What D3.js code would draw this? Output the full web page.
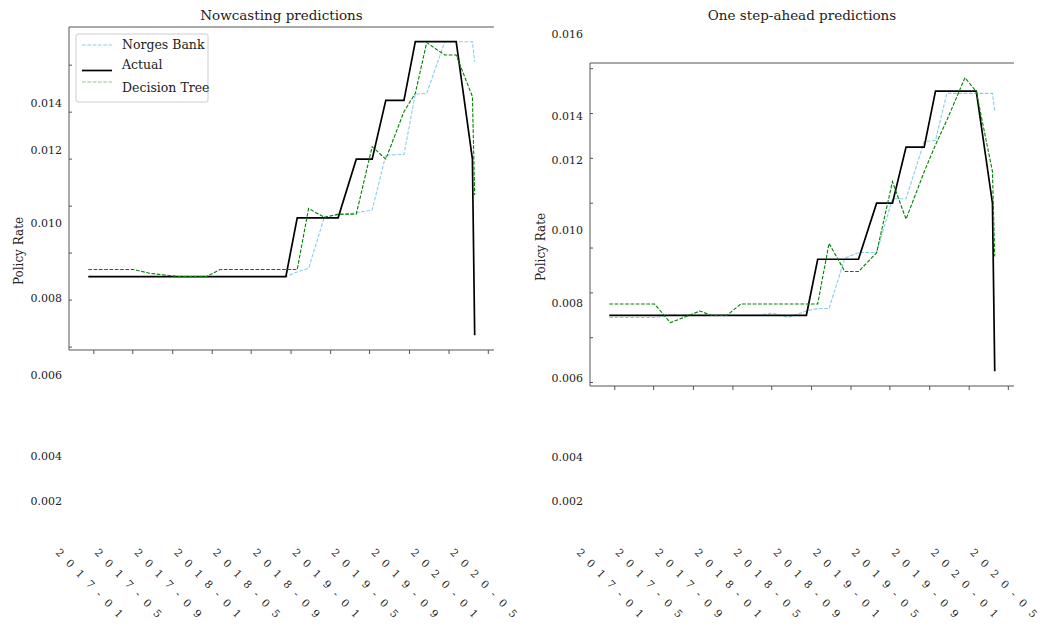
<!DOCTYPE html>
<html><head><meta charset="utf-8">
<script src="https://cdn.jsdelivr.net/npm/d3@7"></script>
<style>
body{margin:0;background:#fff}
text{font-family:"DejaVu Serif",serif;fill:#222}
</style>
</head><body>
<svg id="chart" width="1062" height="630"></svg>
<script>
// ---------------- DATA ----------------
const meetingDates = ["2016-12-15","2017-03-16","2017-05-04","2017-06-22","2017-09-21","2017-10-26","2017-12-14",
  "2018-01-25","2018-03-22","2018-05-03","2018-06-21","2018-08-16","2018-09-20","2018-10-25","2018-12-13",
  "2019-01-24","2019-03-21","2019-05-09","2019-06-20","2019-08-15","2019-09-19","2019-10-24","2019-12-19",
  "2020-01-23","2020-03-13","2020-03-20"];

const actualRate = [0.005,0.005,0.005,0.005,0.005,0.005,0.005,0.005,0.005,0.005,0.005,0.005,
  0.0075,0.0075,0.0075,0.0075,0.01,0.01,0.0125,0.0125,0.015,0.015,0.015,0.015,0.01,0.0025];

// Nowcasting panel
const nowNorgesBank = [0.005,0.005,0.005,0.005,0.005,0.005,0.005,0.005,0.005,0.005,0.005,0.005,
  0.0052,0.00535,0.00755,0.00762,0.00772,0.00783,0.01017,0.0102,0.01277,0.0128,0.015,0.015,0.015,0.01415];
const nowDecisionTree = [0.0053,0.0053,0.0053,0.00514,0.005,0.005,0.005,0.0053,0.0053,0.0053,0.0053,0.0053,
  0.0053,0.0079,0.00752,0.00766,0.00766,0.01053,0.0100,0.01202,0.0128,0.01496,0.01443,0.01443,0.01266,0.00847];

// One step-ahead panel
const aheadNorgesBank = [0.0049,0.0049,0.0049,0.005,0.005,0.005,0.005,0.005,0.005,0.0051,0.0049,0.0052,
  0.0053,0.0053,0.00755,0.0078,0.0078,0.0102,0.0102,0.01275,0.0128,0.0149,0.0149,0.0149,0.0149,0.0141];
const aheadDecisionTree = [0.0055,0.0055,0.0055,0.00467,0.00519,0.005,0.005,0.0055,0.0055,0.0055,0.0055,0.0055,
  0.0055,0.00821,0.00695,0.00695,0.00779,0.01096,0.00929,0.0114,0.0126,0.0137,0.0156,0.01498,0.01141,0.00762];

const seriesNames = ["Norges Bank","Actual","Decision Tree"];
const panelTitles = ["Nowcasting predictions","One step-ahead predictions"];
const yAxisTitle = "Policy Rate";
const yTickLabelsLeft = ["0.002","0.004","0.006","0.008","0.010","0.012","0.014"];
const yTickLabelsRight = ["0.002","0.004","0.006","0.008","0.010","0.012","0.014","0.016"];

// ---------------- LAYOUT ----------------
const svg = d3.select("#chart");
const parseDate = d3.timeParse("%Y-%m-%d");
const dates = meetingDates.map(parseDate);
const fmtMonth = d3.timeFormat("%Y-%m");

const styles = {
  nb: {stroke:"#87CEEB", width:1.1, dash:"3.7,1.6"},
  act: {stroke:"#000", width:1.7, dash:null},
  dt: {stroke:"#008000", width:1.1, dash:"3.7,1.6"}
};

const panels = [
  {title: panelTitles[0], nb: nowNorgesBank, dt: nowDecisionTree, labels: yTickLabelsLeft,
   left:69, right:494, top:27, bottom:350, titleY:20, yTitleX:19, yTitleY:251,
   labelRight:62, xLabelY:553,
   labelPos:[501,456,375,298,223,150,103], legend:true},
  {title: panelTitles[1], nb: aheadNorgesBank, dt: aheadDecisionTree, labels: yTickLabelsRight,
   left:590, right:1014, top:63, bottom:386, titleY:20, yTitleX:541, yTitleY:247,
   labelRight:583, xLabelY:553,
   labelPos:[501,457,378,303,230,160,116,34], legend:false}
];

function padded(ext, f){ const s = ext[1]-ext[0]; return [ext[0]-s*f, ext[1]+s*f]; }

panels.forEach(p => {
  const g = svg.append("g");
  const tExt = d3.extent(dates);
  const span = tExt[1]-tExt[0];
  const x = d3.scaleTime()
    .domain([new Date(+tExt[0]-span*0.05), new Date(+tExt[1]+span*0.05)])
    .range([p.left, p.right]);
  const allVals = actualRate.concat(p.nb, p.dt);
  const y = d3.scaleLinear().domain(padded(d3.extent(allVals),0.05)).range([p.bottom, p.top]);

  const axisColor = "#555";
  // spines: top, left, bottom
  g.append("line").attr("x1",p.left).attr("x2",p.right).attr("y1",p.top).attr("y2",p.top)
    .attr("stroke",axisColor).attr("stroke-width",1);
  g.append("line").attr("x1",p.left).attr("x2",p.left).attr("y1",p.top).attr("y2",p.bottom)
    .attr("stroke",axisColor).attr("stroke-width",1);
  g.append("line").attr("x1",p.left).attr("x2",p.right).attr("y1",p.bottom).attr("y2",p.bottom)
    .attr("stroke",axisColor).attr("stroke-width",1);

  // x ticks
  const xTicks = d3.timeMonth.every(4).range(x.domain()[0], x.domain()[1]);
  g.selectAll(".xt").data(xTicks).join("line")
    .attr("x1",d=>x(d)).attr("x2",d=>x(d)).attr("y1",p.bottom).attr("y2",p.bottom+4)
    .attr("stroke",axisColor).attr("stroke-width",1);
  // x tick labels (rotated, spread characters)
  g.selectAll(".xl").data(xTicks).join("text")
    .attr("transform",d=>`translate(${x(d)-38.8},${p.xLabelY}) rotate(46)`)
    .attr("font-size",10.5).style("letter-spacing","7.9px")
    .text(d=>fmtMonth(d));

  // y ticks (inward)
  const yTickVals = d3.range(0.002, 0.0181, 0.002).filter(v => v>=y.domain()[0] && v<=y.domain()[1]);
  g.selectAll(".yt").data(yTickVals).join("line")
    .attr("x1",p.left).attr("x2",p.left+3).attr("y1",d=>y(d)).attr("y2",d=>y(d))
    .attr("stroke",axisColor).attr("stroke-width",1);
  // y tick labels (displaced, as in reference)
  const posOf = d3.scaleOrdinal().domain(p.labels).range(p.labelPos);
  g.selectAll(".yl").data(p.labels).join("text")
    .attr("x",p.labelRight).attr("y",d=>posOf(d)).attr("dy","0.35em")
    .attr("text-anchor","end").attr("font-size",11).text(d=>d);

  // titles
  g.append("text").attr("x",(p.left+p.right)/2).attr("y",p.titleY)
    .attr("text-anchor","middle").attr("font-size",13.5).text(p.title);
  g.append("text").attr("transform",`translate(${p.yTitleX},${p.yTitleY}) rotate(-90)`)
    .attr("text-anchor","middle").attr("dy","0.35em").attr("font-size",12).text(yAxisTitle);

  // lines
  const line = vals => d3.line().x((d,i)=>x(dates[i])).y(d=>y(d))(vals);
  [["nb",p.nb],["act",actualRate],["dt",p.dt]].forEach(([k,vals]) => {
    const s = styles[k];
    g.append("path").attr("d",line(vals)).attr("fill","none")
      .attr("stroke",s.stroke).attr("stroke-width",s.width)
      .attr("stroke-dasharray",s.dash).attr("stroke-linejoin","miter");
  });

  // legend
  if (p.legend) {
    const lg = g.append("g");
    lg.append("rect").attr("x",p.left+7).attr("y",p.top+7).attr("width",132).attr("height",68)
      .attr("rx",2).attr("fill","#fff").attr("stroke","#ccc").attr("stroke-width",1);
    const rows = [
      {k:"nb", ty:45, ly:45, op:1},
      {k:"act", ty:65, ly:70.5, op:1},
      {k:"dt", ty:88, ly:82, op:0.45}
    ];
    rows.forEach((r,i) => {
      const s = styles[r.k];
      lg.append("line").attr("x1",p.left+13).attr("x2",p.left+43).attr("y1",r.ly).attr("y2",r.ly)
        .attr("stroke",s.stroke).attr("stroke-width",s.width).attr("stroke-dasharray",s.dash)
        .attr("opacity",r.op);
      lg.append("text").attr("x",p.left+53).attr("y",r.ty).attr("dy","0.35em")
        .attr("font-size",12.5).text(seriesNames[i]);
    });
  }
});
</script>
</body></html>
